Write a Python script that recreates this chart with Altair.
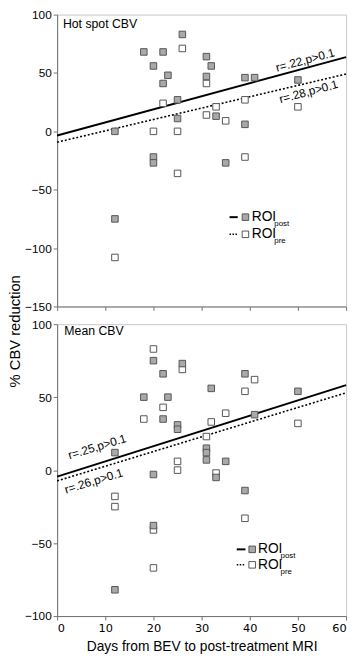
import altair as alt
import pandas as pd

# ---------------- data ----------------
DAY_TICKS = [0, 10, 20, 30, 40, 50, 60]
FIT_DAYS = [0, 60]

# Hot spot CBV
TOP_POST_DAYS = [12, 18, 22, 26, 20, 23, 22, 25, 25, 31, 32, 31, 33, 39, 41, 39, 50, 20, 20, 35, 12]
TOP_POST_VALS = [0, 68, 68, 83, 56, 48, 41, 27, 11, 64, 56, 47, 13, 46, 46, 6, 44, -22, -27, -27, -75]
TOP_PRE_DAYS = [26, 31, 22, 33, 39, 50, 31, 35, 20, 25, 39, 25, 12]
TOP_PRE_VALS = [71, 41, 24, 21, 27, 21, 14, 9, 0, 0, -22, -36, -108]
TOP_FIT_POST = [-3.6, 63.6]
TOP_FIT_PRE = [-9.3, 49.1]

# Mean CBV
BOT_POST_DAYS = [20, 22, 26, 39, 18, 23, 32, 50, 22, 25, 25, 41, 31, 31, 31, 35, 12, 20, 33, 39, 20, 12]
BOT_POST_VALS = [75, 66, 73, 66, 50, 50, 56, 54, 35, 31, 28, 38, 15, 12, 7, 6, 12, -3, -5, -14, -38, -82]
BOT_PRE_DAYS = [20, 26, 41, 39, 22, 18, 35, 32, 50, 31, 25, 25, 33, 12, 12, 39, 20, 20]
BOT_PRE_VALS = [83, 69, 62, 54, 43, 35, 39, 33, 32, 23, 6, 0, -2, -18, -25, -33, -41, -67]
BOT_FIT_POST = [-4.5, 58.2]
BOT_FIT_PRE = [-7.4, 53.0]

TOP_NOTES = ["r=.22,p>0.1", "r=.28,p>0.1"]
TOP_NOTE_DAYS = [51.5, 52.2]
TOP_NOTE_VALS = [61, 34]
BOT_NOTES = ["r=.25,p>0.1", "r=.26,p>0.1"]
BOT_NOTE_DAYS = [8.3, 7.6]
BOT_NOTE_VALS = [16, -7.5]

LEGEND_SUBS = ["post", "pre"]
TOP_LEGEND_VALS = [-73.5, -88.2]
BOT_LEGEND_VALS = [-54.3, -64.9]

W, H = 294, 297
FONT = "Liberation Sans"
EDGE = "#555555"
FILL_POST = "#a9a9a9"
AXIS_COLOR = "#707070"


def xenc(field, xa):
    return alt.X(field, scale=alt.Scale(domain=[0, 60], nice=False, zero=False), axis=alt.Axis(**xa))


def panel(post_d, post_v, pre_d, pre_v, fit_post, fit_pre, ydomain, yticks,
          label, label_day, label_val, notes, note_days, note_vals, note_angle,
          leg_vals, leg_line, leg_sq, leg_txt, bottom):
    xa = dict(values=DAY_TICKS, labels=bottom, tickSize=4)
    if bottom:
        xa["title"] = "Days from BEV to post-treatment MRI"
        xa["titlePadding"] = 6
    else:
        xa["title"] = None
    ya = dict(values=yticks, tickSize=4, labelPadding=2, title=None)
    x = xenc("day:Q", xa)
    y = alt.Y("val:Q", scale=alt.Scale(domain=ydomain, nice=False, zero=False), axis=alt.Axis(**ya))

    fp = pd.DataFrame({"day": FIT_DAYS, "val": fit_post})
    fr = pd.DataFrame({"day": FIT_DAYS, "val": fit_pre})
    post = pd.DataFrame({"day": post_d, "val": post_v})
    pre = pd.DataFrame({"day": pre_d, "val": pre_v})
    lab = pd.DataFrame({"day": [label_day], "val": [label_val], "t": [label]})
    nt = pd.DataFrame({"day": note_days, "val": note_vals, "t": notes})
    leg = pd.DataFrame({"day": [leg_line[0]] * 2, "day2": [leg_line[1]] * 2,
                        "sq": [leg_sq] * 2, "tx": [leg_txt] * 2,
                        "val": leg_vals, "sub": LEGEND_SUBS})

    layers = [
        alt.Chart(fp).mark_line(color="black", strokeWidth=2).encode(x=x, y=y),
        alt.Chart(fr).mark_line(color="black", strokeWidth=1.6, strokeDash=[2, 2]).encode(x=x, y=y),
        alt.Chart(pre).mark_square(size=44, fill="white", stroke=EDGE, strokeWidth=1, opacity=1).encode(x=x, y=y),
        alt.Chart(post).mark_square(size=44, fill=FILL_POST, stroke=EDGE, strokeWidth=1, opacity=1).encode(x=x, y=y),
        alt.Chart(lab).mark_text(align="left", baseline="middle", font=FONT, fontSize=12.5, color="black").encode(x=x, y=y, text="t:N"),
        alt.Chart(nt).mark_text(align="center", baseline="middle", font=FONT, fontSize=12, color="black", angle=note_angle).encode(x=x, y=y, text="t:N"),
        alt.Chart(leg).transform_filter(alt.datum.sub == "post").mark_rule(color="black", strokeWidth=2).encode(x=x, x2="day2:Q", y=y),
        alt.Chart(leg).transform_filter(alt.datum.sub == "pre").mark_rule(color="black", strokeWidth=1.5, strokeDash=[1.5, 1.5]).encode(x=x, x2="day2:Q", y=y),
        alt.Chart(leg).transform_filter(alt.datum.sub == "post").mark_square(size=44, fill=FILL_POST, stroke=EDGE, strokeWidth=1, opacity=1).encode(x=xenc("sq:Q", xa), y=y),
        alt.Chart(leg).transform_filter(alt.datum.sub == "pre").mark_square(size=44, fill="white", stroke=EDGE, strokeWidth=1, opacity=1).encode(x=xenc("sq:Q", xa), y=y),
        alt.Chart(leg).mark_text(align="left", baseline="middle", font=FONT, fontSize=14, color="black").encode(x=xenc("tx:Q", xa), y=y, text=alt.value("ROI")),
        alt.Chart(leg).mark_text(align="left", baseline="middle", font=FONT, fontSize=8, color="black", dx=23, dy=7).encode(x=xenc("tx:Q", xa), y=y, text="sub:N"),
    ]
    return alt.layer(*layers).properties(width=W, height=H)


top = panel(TOP_POST_DAYS, TOP_POST_VALS, TOP_PRE_DAYS, TOP_PRE_VALS, TOP_FIT_POST, TOP_FIT_PRE,
            [-150, 100], [-150, -100, -50, 0, 50, 100], "Hot spot CBV", 1.2, 92,
            TOP_NOTES, TOP_NOTE_DAYS, TOP_NOTE_VALS, 345,
            TOP_LEGEND_VALS, (35.8, 37.5), 39.1, 40.4, False)
bot = panel(BOT_POST_DAYS, BOT_POST_VALS, BOT_PRE_DAYS, BOT_PRE_VALS, BOT_FIT_POST, BOT_FIT_PRE,
            [-100, 100], [-100, -50, 0, 50, 100], "Mean CBV", 1.5, 95,
            BOT_NOTES, BOT_NOTE_DAYS, BOT_NOTE_VALS, 343,
            BOT_LEGEND_VALS, (37.3, 39.1), 40.5, 41.7, True)

chart = alt.vconcat(top, bot, spacing=4).properties(
    padding={"left": 0, "top": -6, "right": 0, "bottom": 0},
    title=alt.TitleParams(text="% CBV reduction", orient="left", anchor="middle",
                          font=FONT, fontSize=15, fontWeight="normal", color="black", offset=1),
).configure_view(stroke="#c8c8c8", strokeWidth=1).configure_axis(
    domainColor=AXIS_COLOR, tickColor=AXIS_COLOR, grid=False,
    labelFont=FONT, labelFontSize=12, labelColor="black",
    titleFont=FONT, titleFontWeight="normal", titleFontSize=14, titleColor="black",
).configure_axisX(labelFont="DejaVu Sans", labelFontSize=11.5, labelPadding=3)

chart.save("out.html", embed_options={"renderer": "svg", "actions": False})
